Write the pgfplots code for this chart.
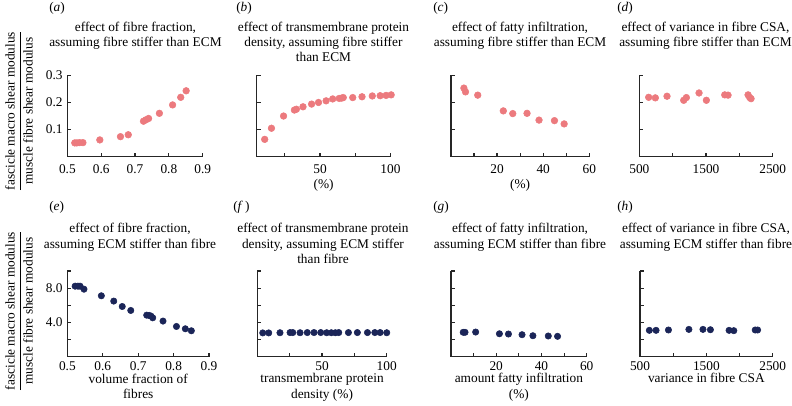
\documentclass[border=0pt]{standalone}
\usepackage{pgfplots}
\pgfplotsset{compat=1.18}
\usepackage{fontspec}
\setmainfont{Liberation Serif}
\definecolor{pinkdot}{RGB}{236,122,126}
\definecolor{navydot}{RGB}{27,37,88}
\newcommand{\tl}[1]{\mbox{#1}}
\pgfplotsset{
  panel/.style={
    scale only axis, anchor=south west, clip=false,
    axis lines=left, axis line style={-, line width=0.9pt, black!85},
    tick align=inside, major tick length=3pt,
    tick style={line width=0.9pt, black!85},
    /pgf/number format/assume math mode=true,
    ticklabel style={font=\fontsize{10}{12}\selectfont},
    xlabel style={align=center, font=\fontsize{10}{11.5}\selectfont},
  },
  toprow/.style={panel, height=61.05pt, ymin=0, ymax=0.3, ytick={0.1,0.2,0.3},
    xticklabel style={yshift=-2.5pt}, xlabel style={yshift=2.5pt}},
  botrow/.style={panel, height=64.3pt, ymin=0, ymax=10, ytick={2,4,6,8,10},
    xlabel style={yshift=4.5pt}},
  pinkm/.style={only marks, mark=*, mark size=2.5pt, color=pinkdot},
  navym/.style={only marks, mark=*, mark size=2.4pt, color=navydot},
}
\begin{document}
\begin{tikzpicture}
\path[use as bounding box] (0,0) rectangle (594pt,303.75pt);

% (a)
\begin{axis}[toprow, at={(50.5pt,186.2pt)}, width=101.55pt,
  xmin=0.5, xmax=0.9, xtick={0.5,0.6,0.7,0.8,0.9}, xticklabels={\tl{0.5},\tl{0.6},\tl{0.7},\tl{0.8},\tl{0.9}},
  yticklabels={\tl{0.1},\tl{0.2},\tl{0.3}}]
\addplot[pinkm] coordinates {(0.522,0.051)(0.528,0.051)(0.536,0.052)(0.546,0.052)(0.596,0.062)(0.657,0.074)(0.680,0.081)(0.725,0.131)(0.732,0.136)(0.740,0.141)(0.772,0.160)(0.811,0.191)(0.835,0.219)(0.851,0.243)};
\end{axis}

% (b)
\begin{axis}[toprow, at={(192.5pt,186.2pt)}, width=100.35pt,
  xmin=5, xmax=100, xtick={25,50,75,100}, xticklabels={,\tl{50},,\tl{100}},
  yticklabels={,,}, xlabel={(\%)}]
\addplot[pinkm] coordinates {(10.7,0.064)(15.5,0.105)(24.1,0.150)(31.8,0.172)(33.2,0.175)(37.9,0.184)(44.0,0.194)(48.9,0.200)(54.3,0.206)(59.0,0.213)(63.6,0.215)(65.3,0.216)(66.5,0.218)(73.2,0.218)(79.8,0.221)(87.1,0.224)(92.7,0.225)(96.9,0.226)(100.5,0.228)};
\end{axis}

% (c)
\begin{axis}[toprow, at={(338.25pt,186.2pt)}, width=103.7pt,
  xmin=0, xmax=60, xtick={10,20,30,40,50,60}, xticklabels={,\tl{20},,\tl{40},,\tl{60}},
  yticklabels={,,}, xlabel={(\%)}]
\addplot[pinkm] coordinates {(5.6,0.253)(6.3,0.239)(11.6,0.227)(22.7,0.169)(26.8,0.159)(33.0,0.160)(38.2,0.135)(44.9,0.133)(49.1,0.121)};
\end{axis}

% (d)
\begin{axis}[toprow, at={(479.5pt,186.2pt)}, width=100.05pt,
  xmin=500, xmax=2500, xtick={500,1000,1500,2000,2500}, xticklabels={\tl{500},,\tl{1500},,\tl{2500}},
  yticklabels={,,}]
\addplot[pinkm] coordinates {(640,0.219)(740,0.217)(915,0.223)(1165,0.208)(1205,0.218)(1395,0.235)(1505,0.208)(1780,0.228)(1830,0.227)(2130,0.228)(2155,0.218)(2175,0.214)};
\end{axis}

% (e)
\begin{axis}[botrow, at={(50.5pt,36.2pt)}, width=106.3pt,
  xmin=0.5, xmax=0.9, xtick={0.5,0.6,0.7,0.8,0.9}, xticklabels={\tl{0.5},\tl{0.6},\tl{0.7},\tl{0.8},\tl{0.9}},
  yticklabels={,\tl{4.0},,\tl{8.0},}, xlabel={volume fraction of\\fibres}]
\addplot[navym] coordinates {(0.522,8.23)(0.530,8.23)(0.536,8.23)(0.547,7.88)(0.596,7.11)(0.631,6.49)(0.655,5.86)(0.679,5.40)(0.724,4.85)(0.731,4.82)(0.736,4.74)(0.741,4.54)(0.770,4.16)(0.808,3.53)(0.833,3.26)(0.850,3.03)};
\end{axis}

% (f)
\begin{axis}[botrow, at={(193.0pt,36.2pt)}, width=97.05pt,
  xmin=0, xmax=100, xtick={25,50,75,100}, xticklabels={,\tl{50},,\tl{100}},
  yticklabels={,,,,}, xlabel={transmembrane protein\\density (\%)}]
\addplot[navym] coordinates {(4.2,2.78)(8.8,2.78)(17.5,2.80)(25.3,2.82)(27.4,2.82)(33.0,2.80)(38.6,2.82)(43.8,2.82)(49.0,2.82)(53.6,2.80)(57.2,2.80)(60.3,2.80)(62.9,2.82)(70.4,2.82)(77.3,2.82)(85.1,2.82)(90.8,2.82)(94.9,2.82)(100.0,2.80)};
\end{axis}

% (g)
\begin{axis}[botrow, at={(338.25pt,36.2pt)}, width=101.8pt,
  xmin=0, xmax=60, xtick={10,20,30,40,50,60}, xticklabels={,\tl{20},,\tl{40},,\tl{60}},
  yticklabels={,,,,}, xlabel={amount fatty infiltration\\(\%)}]
\addplot[navym] coordinates {(5.4,2.85)(6.2,2.85)(10.9,2.88)(21.4,2.68)(25.4,2.65)(31.4,2.57)(36.2,2.45)(43.0,2.42)(47.1,2.38)};
\end{axis}

% (h)
\begin{axis}[botrow, at={(480pt,36.2pt)}, width=99.5pt,
  xmin=500, xmax=2500, xtick={500,1000,1500,2000,2500}, xticklabels={\tl{500},,\tl{1500},,\tl{2500}},
  yticklabels={,,,,}, xlabel={variance in fibre CSA}]
\addplot[navym] coordinates {(641,3.08)(742,3.08)(929,3.12)(1237,3.19)(1449,3.19)(1561,3.15)(1843,3.08)(1914,3.04)(2237,3.12)(2273,3.12)};
\end{axis}

% panel letters
\begin{scope}[every node/.style={anchor=west, inner sep=0pt, font=\fontsize{10}{12}\selectfont}]
\node at (36.75pt,297.75pt) {(\textit{a})};
\node at (177pt,297.75pt) {(\textit{b})};
\node at (324.75pt,297.75pt) {(\textit{c})};
\node at (462.75pt,297.75pt) {(\textit{d})};
\node at (36.75pt,148.5pt) {(\textit{e})};
\node at (174.75pt,148.5pt) {(\textit{f}\,)};
\node at (324.75pt,148.5pt) {(\textit{g})};
\node at (462.75pt,148.5pt) {(\textit{h})};
\end{scope}

% titles
\begin{scope}[every node/.style={anchor=north, inner sep=0pt, align=center, font=\fontsize{10}{11.5}\selectfont}]
\node at (101.6pt,287.6pt) {effect of fibre fraction,\\assuming fibre stiffer than ECM};
\node at (242.6pt,287.6pt) {effect of transmembrane protein\\density, assuming fibre stiffer\\than ECM};
\node at (390pt,287.6pt) {effect of fatty infiltration,\\assuming fibre stiffer than ECM};
\node at (529.1pt,287.6pt) {effect of variance in fibre CSA,\\assuming fibre stiffer than ECM};
\node at (97.5pt,136.3pt) {effect of fibre fraction,\\assuming ECM stiffer than fibre};
\node at (242.25pt,136.3pt) {effect of transmembrane protein\\density, assuming ECM stiffer\\than fibre};
\node at (390pt,136.3pt) {effect of fatty infiltration,\\assuming ECM stiffer than fibre};
\node at (529.5pt,136.3pt) {effect of variance in fibre CSA,\\assuming ECM stiffer than fibre};
\end{scope}

% y labels
\node[rotate=90, inner sep=0pt, font=\fontsize{10}{12}\selectfont] at (14.25pt,220.5pt)
  {$\displaystyle\frac{\mbox{fascicle macro shear modulus}}{\mbox{muscle fibre shear modulus}}$};
\node[rotate=90, inner sep=0pt, font=\fontsize{10}{12}\selectfont] at (14.25pt,70.5pt)
  {$\displaystyle\frac{\mbox{fascicle macro shear modulus}}{\mbox{muscle fibre shear modulus}}$};
\end{tikzpicture}
\end{document}
